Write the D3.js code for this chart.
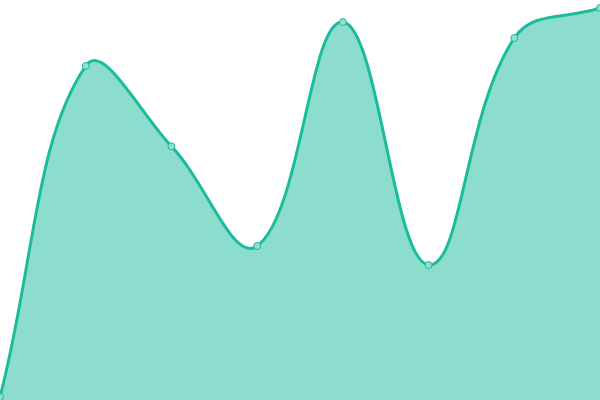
<!DOCTYPE html>
<html>
<head>
<meta charset="utf-8">
<script src="https://cdn.jsdelivr.net/npm/d3@7"></script>
<style>
  html, body { margin: 0; padding: 0; background: #ffffff; overflow: hidden; }
  svg { display: block; }
</style>
</head>
<body>
<svg id="chart" width="600" height="400"></svg>
<script>
// Data
const categories = ["A", "B", "C", "D", "E", "F", "G", "H"];
const values = [0.75, 83.5, 63.4, 38.5, 94.5, 33.75, 90.5, 98];

const W = 600, H = 400;
const svg = d3.select("#chart");

const x = d3.scalePoint().domain(categories).range([0, W]);
const y = d3.scaleLinear().domain([0, 100]).range([H, 0]);

// Spline curve with tension 0.4 (distance-weighted control points), capped to plot area
function makeSplineCurve(tension, x0, x1, y0, y1) {
  function Curve(context) { this._context = context; }
  Curve.prototype = {
    areaStart() { this._line = 0; },
    areaEnd() { this._line = NaN; },
    lineStart() { this._xs = []; this._ys = []; },
    point(px, py) { this._xs.push(+px); this._ys.push(+py); },
    lineEnd() {
      const xs = this._xs, ys = this._ys, n = xs.length, ctx = this._context;
      if (n > 0) {
        if (this._line) ctx.lineTo(xs[0], ys[0]); else ctx.moveTo(xs[0], ys[0]);
        const cpx1 = [], cpy1 = [], cpx2 = [], cpy2 = [];
        const clampX = v => Math.max(x0, Math.min(x1, v));
        const clampY = v => Math.max(y0, Math.min(y1, v));
        for (let i = 0; i < n; i++) {
          const p = i > 0 ? i - 1 : i, q = i < n - 1 ? i + 1 : i;
          const d01 = Math.hypot(xs[i] - xs[p], ys[i] - ys[p]);
          const d12 = Math.hypot(xs[q] - xs[i], ys[q] - ys[i]);
          const s = d01 + d12;
          const fa = s ? tension * d01 / s : 0;
          const fb = s ? tension * d12 / s : 0;
          const dx = xs[q] - xs[p], dy = ys[q] - ys[p];
          cpx1[i] = clampX(xs[i] - fa * dx); cpy1[i] = clampY(ys[i] - fa * dy);
          cpx2[i] = clampX(xs[i] + fb * dx); cpy2[i] = clampY(ys[i] + fb * dy);
        }
        for (let i = 1; i < n; i++) {
          ctx.bezierCurveTo(cpx2[i - 1], cpy2[i - 1], cpx1[i], cpy1[i], xs[i], ys[i]);
        }
      }
      if (this._line || (this._line !== 0 && n === 1)) ctx.closePath();
      this._line = 1 - this._line;
    }
  };
  return context => new Curve(context);
}

const curve = makeSplineCurve(0.4, 0, W, 0, H);

const area = d3.area()
  .x((d, i) => x(categories[i]))
  .y0(y(0))
  .y1(d => y(d))
  .curve(curve);

const line = d3.line()
  .x((d, i) => x(categories[i]))
  .y(d => y(d))
  .curve(curve);

svg.append("path")
  .datum(values)
  .attr("d", area)
  .attr("fill", "rgba(26,188,156,0.5)");

svg.append("path")
  .datum(values)
  .attr("d", line)
  .attr("fill", "none")
  .attr("stroke", "#1abc9c")
  .attr("stroke-width", 3);

svg.selectAll("circle.pt")
  .data(values)
  .join("circle")
  .attr("class", "pt")
  .attr("cx", (d, i) => x(categories[i]))
  .attr("cy", d => y(d))
  .attr("r", 3.5)
  .attr("fill", "#8ee0d0")
  .attr("stroke", "#1abc9c")
  .attr("stroke-width", 1);
</script>
</body>
</html>
